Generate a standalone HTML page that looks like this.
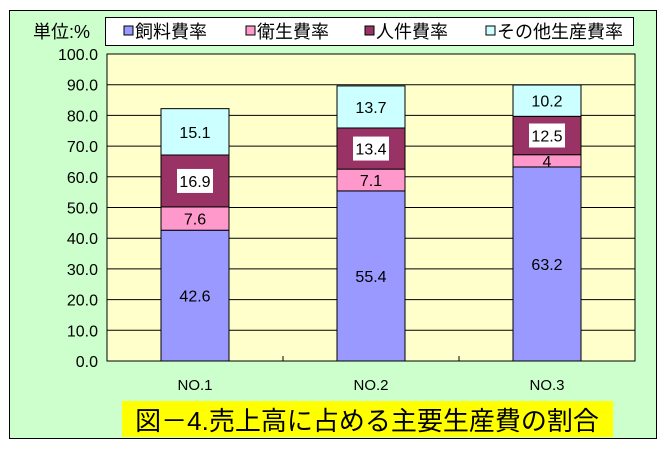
<!DOCTYPE html>
<html><head><meta charset="utf-8"><style>
body{margin:0;background:#fff;width:664px;height:447px;overflow:hidden}
text{font-family:"Liberation Sans","Noto Sans CJK JP",sans-serif}
</style></head><body>
<svg id="chart" width="664" height="447" xmlns="http://www.w3.org/2000/svg">
<rect x="9.5" y="10.5" width="647" height="428" fill="#ccffcc" stroke="#000"/>
<rect x="107" y="54" width="528" height="307" fill="#ffffcc" stroke="#000"/>
<g id="grid"></g><g id="bars"></g><g id="labels"></g><g id="axes"></g>
<text x="33" y="38" font-size="18">単位:%</text>
<rect x="105.5" y="17.5" width="528" height="28" fill="#fff" stroke="#000"/>
<g id="legend"></g>
<rect x="122" y="401" width="491" height="36" fill="#ffff00"/>
<text x="367" y="430" font-size="26" text-anchor="middle">図－4.売上高に占める主要生産費の割合</text>
</svg>
<script>
const categories=["NO.1","NO.2","NO.3"];
const seriesNames=["飼料費率","衛生費率","人件費率","その他生産費率"];
const feed=[42.6,55.4,63.2];
const hygiene=[7.6,7.1,4];
const labor=[16.9,13.4,12.5];
const other=[15.1,13.7,10.2];
const yTicks=[0,10,20,30,40,50,60,70,80,90,100];
const colors=["#9999ff","#ff99cc","#993366","#ccffff"];
const boxed=[false,false,true,false];
const series=[feed,hygiene,labor,other];
const NS="http://www.w3.org/2000/svg";
const x0=107,pw=528,y0=361,ph=307;
const yS=v=>y0-v/100*ph;
const band=pw/categories.length,bw=68;
const xC=i=>x0+band*(i+0.5);
function mk(t,a,p){const e=document.createElementNS(NS,t);for(const k in a)e.setAttribute(k,a[k]);p.appendChild(e);return e;}
const grid=document.getElementById('grid'),bars=document.getElementById('bars'),labels=document.getElementById('labels'),axes=document.getElementById('axes'),legend=document.getElementById('legend');
yTicks.forEach(t=>{
 if(t>0&&t<100){const l=mk('line',{x1:x0,x2:x0+pw,y1:yS(t),y2:yS(t),stroke:'#000'},grid);
 
 }
 const tx=mk('text',{x:98,y:yS(t)+6,'font-size':16,'text-anchor':'end'},axes);tx.textContent=t.toFixed(1);
 
 
});
for(let i=1;i<categories.length;i++){const l=mk('line',{x1:x0+band*i,x2:x0+band*i,y1:y0,y2:y0-5,stroke:'#000'},axes);
 
 }
categories.forEach((c,i)=>{
 let acc=0;
 series.forEach((s,k)=>{
  const v=s[i],yt=yS(acc+v),yb=yS(acc);
  const r=mk('rect',{x:xC(i)-bw/2,y:yt,width:bw,height:yb-yt,fill:colors[k],stroke:'#000'},bars);
  
  
  const cy=(yt+yb)/2;
  if(boxed[k]){const b=mk('rect',{x:xC(i)-18,y:cy-12,width:36,height:24,fill:'#fff'},labels);
   
   }
  const t=mk('text',{x:xC(i),y:cy+6,'font-size':16,'text-anchor':'middle'},labels);t.textContent=String(v);
  
  
  acc+=v;
 });
 const t=mk('text',{x:xC(i),y:390,'font-size':15,'text-anchor':'middle'},axes);t.textContent=c;
 
 
});
const lx=[124,246,365,486];
seriesNames.forEach((n,k)=>{
 const r=mk('rect',{x:lx[k],y:26,width:9,height:9,fill:colors[k],stroke:'#000'},legend);
 
 
 const t=mk('text',{x:lx[k]+11,y:38,'font-size':18},legend);t.textContent=n;
 
 
});
</script>
</body></html>
